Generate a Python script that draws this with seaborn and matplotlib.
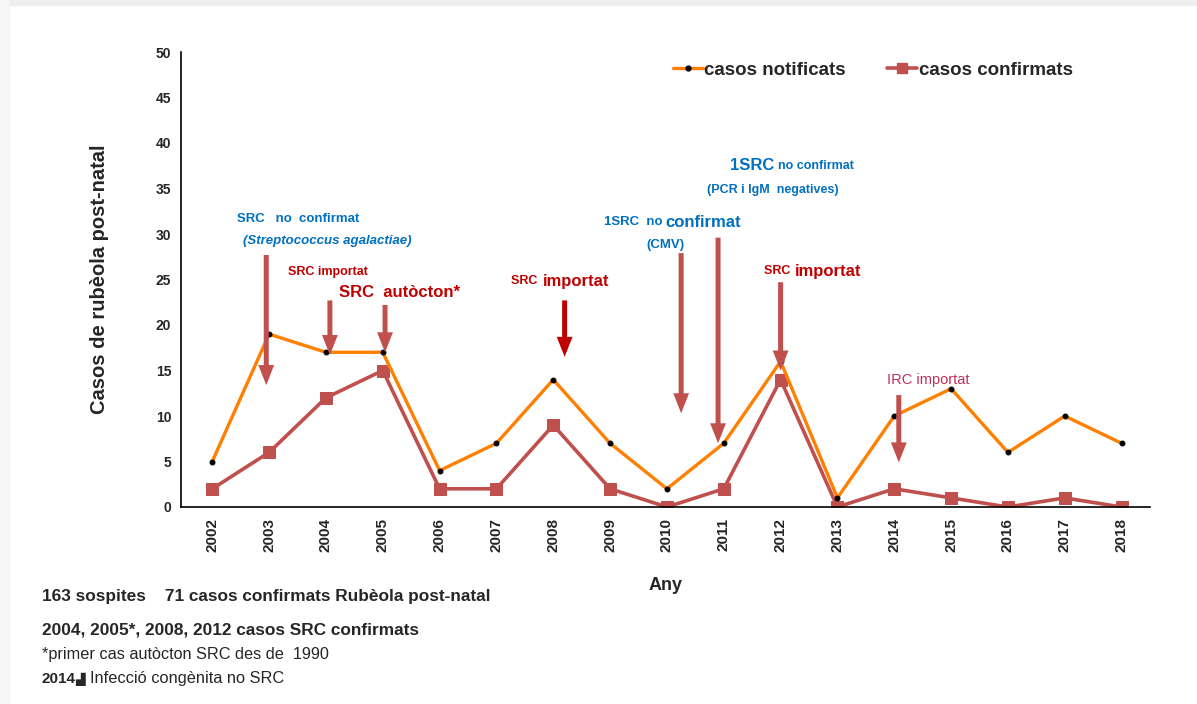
import matplotlib
matplotlib.use("Agg")
import matplotlib.pyplot as plt
import seaborn as sns
import pandas as pd
import numpy as np
from matplotlib.patches import Rectangle
from matplotlib.lines import Line2D

# ---------------- data ----------------
years = ["2002", "2003", "2004", "2005", "2006", "2007", "2008", "2009", "2010",
         "2011", "2012", "2013", "2014", "2015", "2016", "2017", "2018"]
notificats = [5, 19, 17, 17, 4, 7, 14, 7, 2, 7, 16, 1, 10, 13, 6, 10, 7]
confirmats = [2, 6, 12, 15, 2, 2, 9, 2, 0, 2, 14, 0, 2, 1, 0, 1, 0]

# arrow annotations: (category position, top value, tip value)
arrow_x = [0.95, 2.07, 3.04, 6.2, 8.25, 8.9, 10.0, 12.08]
arrow_top = [27.7, 22.7, 22.2, 22.7, 27.9, 29.6, 24.7, 12.3]
arrow_tip = [13.4, 16.7, 17.0, 16.5, 10.3, 7.0, 15.0, 4.9]
arrow_col = ["#C0504D", "#C0504D", "#C0504D", "#C00000", "#C0504D", "#C0504D", "#C0504D", "#C0504D"]

yticks = [0, 5, 10, 15, 20, 25, 30, 35, 40, 45, 50]

footnotes = [
    "163 sospites    71 casos confirmats Rubèola post-natal",
    "2004, 2005*, 2008, 2012 casos SRC confirmats",
    "*primer cas autòcton SRC des de  1990",
    "Infecció congènita no SRC",
]

# ---------------- style ----------------
sns.set_style("white")
plt.rcParams["font.family"] = ["Liberation Sans", "DejaVu Sans"]

ORANGE = "#FF8000"
RED = "#C0504D"
BLUE = "#0070C0"
DRED = "#C00000"

fig = plt.figure(figsize=(11.97, 7.04), dpi=100)
fig.patch.set_facecolor("white")
fig.patches.append(Rectangle((0, 1 - 5 / 704), 1, 5 / 704, transform=fig.transFigure,
                             color="#eeeeee", zorder=0))
fig.patches.append(Rectangle((0, 0), 9 / 1197, 1, transform=fig.transFigure,
                             color="#f6f6f6", zorder=0))

ax = fig.add_axes([181 / 1197, 1 - 507 / 704, 969 / 1197, 455 / 704])
ax.set_facecolor("none")

df = pd.DataFrame({"pos": np.arange(len(years)), "Any": years,
                   "notificats": notificats, "confirmats": confirmats})

sns.lineplot(data=df, x="pos", y="confirmats", ax=ax, color=RED, lw=2.6,
             marker="s", markersize=8, markeredgecolor=RED, markerfacecolor=RED, zorder=2)
sns.lineplot(data=df, x="pos", y="notificats", ax=ax, color=ORANGE, lw=2.4,
             marker="o", markersize=3.5, markeredgecolor="black", markerfacecolor="black", zorder=2.5)

ax.set_xlim(-0.55, len(years) - 0.5)
ax.set_ylim(0, 50)
ax.set_yticks(yticks)
ax.set_yticklabels([str(v) for v in yticks], fontsize=10, fontweight="bold",
                   family=["Liberation Sans Narrow", "Liberation Sans"])
ax.set_xticks(np.arange(len(years)))
ax.set_xticklabels(years, rotation=90, fontsize=11, fontweight="bold")
ax.set_xticks(np.arange(len(years)) - 0.5, minor=True)
ax.tick_params(axis="x", which="major", length=0, pad=8)
ax.tick_params(axis="x", which="minor", length=5, direction="in", width=1, color="black")
ax.tick_params(axis="y", which="major", length=4, direction="out", width=1, color="black", pad=3)

for s in ["top", "right"]:
    ax.spines[s].set_visible(False)
for s in ["left", "bottom"]:
    ax.spines[s].set_color("black")
    ax.spines[s].set_linewidth(1.2)
ax.grid(False)

ax.set_xlabel("Any", fontsize=13, fontweight="bold", labelpad=18)
ax.set_ylabel("Casos de rubèola post-natal", fontsize=14.5, fontweight="bold", labelpad=34)

# arrows
for x, t, b, c in zip(arrow_x, arrow_top, arrow_tip, arrow_col):
    ax.annotate("", xy=(x, b), xytext=(x, t),
                arrowprops=dict(arrowstyle="simple,head_length=1.2,head_width=0.95,tail_width=0.3",
                                mutation_scale=12, fc=c, ec=c, lw=0, shrinkA=0, shrinkB=0),
                zorder=3)

# annotation texts
tkw = dict(ha="center", va="center", fontweight="bold")
ax.text(1.51, 31.6, "SRC   no  confirmat", color=BLUE, fontsize=9.5, **tkw)
ax.text(2.03, 29.2, "(Streptococcus agalactiae)", color=BLUE, fontsize=9.5, style="italic", **tkw)
ax.text(2.04, 25.8, "SRC importat", color=DRED, fontsize=9, **tkw)
ax.text(3.3, 23.6, "SRC  autòcton*", color=DRED, fontsize=12, **tkw)

# 2008
ax.text(5.78, 24.8, "SRC ", color=DRED, fontsize=9, ha="right", va="center", fontweight="bold")
ax.text(5.81, 24.8, "importat", color=DRED, fontsize=12, ha="left", va="center", fontweight="bold")
# 2010
ax.text(7.98, 31.3, "1SRC  no ", color=BLUE, fontsize=9.5, ha="right", va="center", fontweight="bold")
ax.text(7.98, 31.3, "confirmat", color=BLUE, fontsize=12, ha="left", va="center", fontweight="bold")
ax.text(7.98, 28.8, "(CMV)", color=BLUE, fontsize=9.5, **tkw)
# 2011
ax.text(9.88, 37.5, "1SRC", color=BLUE, fontsize=12, ha="right", va="center", fontweight="bold")
ax.text(9.96, 37.5, "no confirmat", color=BLUE, fontsize=9, ha="left", va="center", fontweight="bold")
ax.text(9.86, 34.8, "(PCR i IgM  negatives)", color=BLUE, fontsize=9, **tkw)
# 2012
ax.text(10.23, 25.9, "SRC ", color=DRED, fontsize=9, ha="right", va="center", fontweight="bold")
ax.text(10.26, 25.9, "importat", color=DRED, fontsize=12, ha="left", va="center", fontweight="bold")
# 2014
ax.text(12.6, 14.0, "IRC importat", color="#C0305A", fontsize=10.5, ha="center", va="center")

# legend
handles = [
    Line2D([0], [0], color=ORANGE, lw=2.4, marker="o", markersize=3.5,
           markerfacecolor="black", markeredgecolor="black"),
    Line2D([0], [0], color=RED, lw=2.6, marker="s", markersize=7,
           markerfacecolor=RED, markeredgecolor=RED),
]
ax.legend(handles, ["casos notificats", "casos confirmats"], loc="center",
          bbox_to_anchor=(0.714, 0.96), ncol=2, frameon=False,
          handlelength=1.6, handletextpad=0.1, columnspacing=2.2,
          prop={"weight": "bold", "size": 13.5, "family": ["Liberation Sans Narrow", "Liberation Sans"]})

# footnotes
fx = 42 / 1197
fig.text(fx, 1 - 597 / 704, footnotes[0], fontsize=12.4, fontweight="bold", va="center", ha="left")
fig.text(fx, 1 - 630 / 704, footnotes[1], fontsize=12.4, fontweight="bold", va="center", ha="left")
fig.text(fx, 1 - 655 / 704, footnotes[2], fontsize=11.7, va="center", ha="left")
fig.text(fx, 1 - 679 / 704, "2014", fontsize=11, fontweight="bold", va="center", ha="left")
fig.text(fx + 33 / 1197, 1 - 679 / 704, "▟", fontsize=9, va="center", ha="left",
         family=["DejaVu Sans"])
fig.text(fx + 48 / 1197, 1 - 679 / 704, footnotes[3], fontsize=11.8, va="center", ha="left")

fig.savefig("out.png", dpi=100, facecolor="white")
